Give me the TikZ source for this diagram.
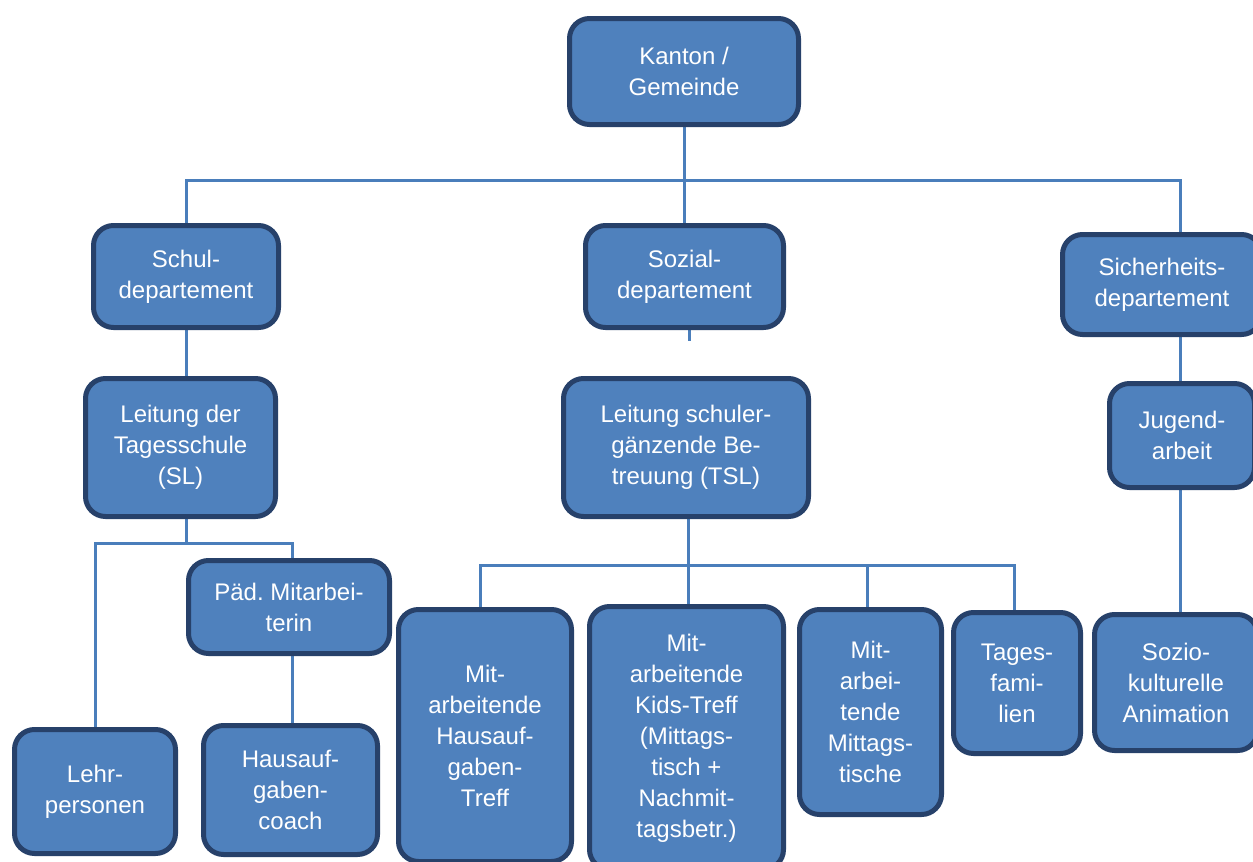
\documentclass[tikz,border=0pt]{standalone}
\usepackage{fontspec}
\setmainfont{Liberation Sans}
\usetikzlibrary{backgrounds}
\definecolor{boxfill}{HTML}{4F81BD}
\definecolor{boxline}{HTML}{27416A}
\definecolor{wire}{HTML}{4A7EBB}
\tikzset{
  unit/.style={draw=boxline, fill=boxfill, line width=5pt, rounded corners=20pt,
    text=white, align=center, inner sep=0pt,
    font=\fontsize{24}{31}\selectfont\frenchspacing},
  link/.style={draw=wire, line width=3pt},
}
\begin{document}
\begin{tikzpicture}[x=1pt, y=-1pt]
\useasboundingbox (0,0) rectangle (1253,862);
\clip (0,0) rectangle (1253,862);

% top level
\node[unit, minimum width=229pt, minimum height=106pt] (kanton) at (684,71.5) {Kanton /\\Gemeinde};

% departments
\node[unit, minimum width=185pt, minimum height=102pt] (schul) at (186,276.5) {Schul-\\departement};
\node[unit, minimum width=198pt, minimum height=102pt] (sozial) at (684.5,276.5) {Sozial-\\departement};
\node[unit, minimum width=199pt, minimum height=100pt] (sicher) at (1162,284.5) {Sicherheits-\\departement};

% management
\node[unit, minimum width=190pt, minimum height=138pt] (sl) at (180.5,447.5) {Leitung der\\Tagesschule\\(SL)};
\node[unit, minimum width=245pt, minimum height=138pt] (tsl) at (686,447.5) {Leitung schuler-\\gänzende Be-\\treuung (TSL)};
\node[unit, minimum width=145pt, minimum height=104pt] (jugend) at (1182,435.5) {Jugend-\\arbeit};

% staff
\node[unit, minimum width=201pt, minimum height=93pt] (paed) at (289,607) {Päd. Mitarbei-\\terin};
\node[unit, minimum width=161pt, minimum height=124pt] (lehr) at (95,791.5) {Lehr-\\personen};
\node[unit, minimum width=174pt, minimum height=129pt] (hcoach) at (290.5,790) {Hausauf-\\gaben-\\coach};
\node[unit, minimum width=173pt, minimum height=252pt] (htreff) at (485,735.5) {Mit-\\arbeitende\\Hausauf-\\gaben-\\Treff};
\node[unit, minimum width=194pt, minimum height=263pt] (kids) at (686.5,738) {Mit-\\arbeitende\\Kids-Treff\\(Mittags-\\tisch +\\Nachmit-\\tagsbetr.)};
\node[unit, minimum width=142pt, minimum height=205pt] (mittag) at (870.5,712) {Mit-\\arbei-\\tende\\Mittags-\\tische};
\node[unit, minimum width=127pt, minimum height=141pt] (tages) at (1017,683) {Tages-\\fami-\\lien};
\node[unit, minimum width=163pt, minimum height=136pt] (sozio) at (1176,682.5) {Sozio-\\kulturelle\\Animation};

% bus coordinates
\coordinate (busA) at (1180,180);
\coordinate (busB) at (186,543);
\coordinate (busBr) at (292,543);
\coordinate (busC) at (688,565);
\coordinate (stub) at (689,341);

\begin{scope}[on background layer]
% Kanton to departments
\draw[link] (kanton.south) -- (kanton.south |- sozial.north);
\draw[link] (schul.north) |- (busA) -- (busA |- sicher.north);
\draw[link] (sozial.south -| stub) -- (stub);
% Schuldepartement branch
\draw[link] (schul.south) -- (schul.south |- sl.north);
\draw[link] (schul.south |- sl.south) -- (busB);
\draw[link] (lehr.north) |- (busBr) -- (busBr |- paed.north);
\draw[link] (busBr |- paed.south) -- (busBr |- hcoach.north);
% TSL branch
\draw[link] (busC |- tsl.south) -- (busC) -- (busC |- kids.north);
\draw[link] (htreff.north -| 480,0) |- (busC) -| (tages.north -| 1014,0);
\draw[link] (mittag.north -| 867,0) -- (busC -| 867,0);
% Sicherheitsdepartement branch
\draw[link] (busA |- sicher.south) -- (busA |- jugend.north);
\draw[link] (busA |- jugend.south) -- (busA |- sozio.north);
\end{scope}
\end{tikzpicture}
\end{document}
